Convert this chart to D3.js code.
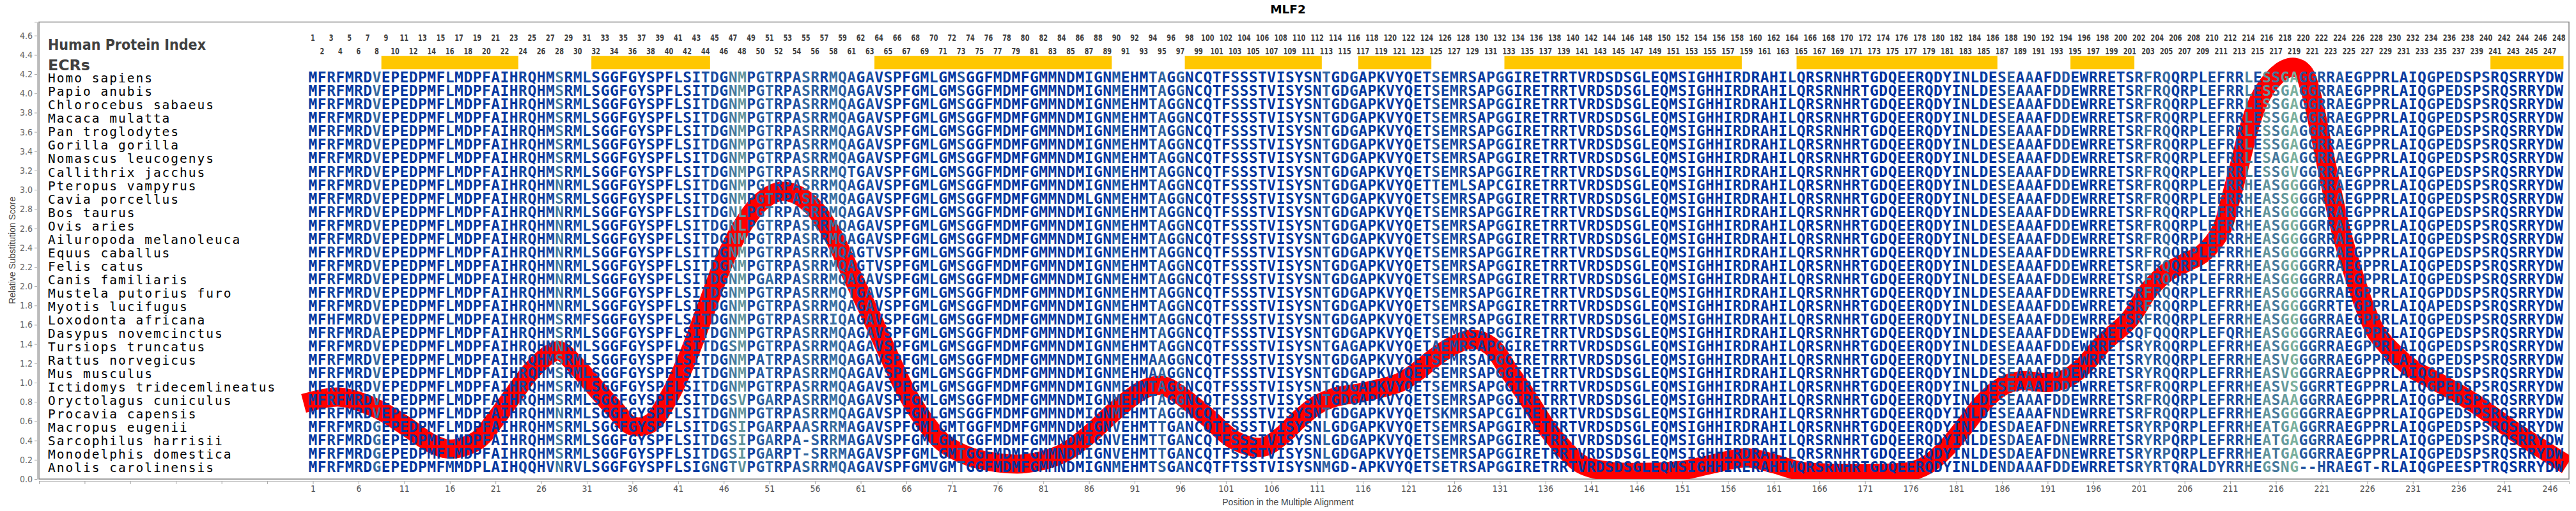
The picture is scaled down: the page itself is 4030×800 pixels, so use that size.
<!DOCTYPE html>
<html>
<head>
<meta charset="utf-8">
<script src="https://cdn.jsdelivr.net/npm/d3@7"></script>
<style>
body { margin: 0; background: #fff; }
</style>
</head>
<body>
<div id="chart"></div>
<script>
var width = 4030,
    height = 800;

var species = ["Homo sapiens", "Papio anubis", "Chlorocebus sabaeus", "Macaca mulatta",
    "Pan troglodytes", "Gorilla gorilla", "Nomascus leucogenys", "Callithrix jacchus",
    "Pteropus vampyrus", "Cavia porcellus", "Bos taurus", "Ovis aries",
    "Ailuropoda melanoleuca", "Equus caballus", "Felis catus", "Canis familiaris",
    "Mustela putorius furo", "Myotis lucifugus", "Loxodonta africana", "Dasypus novemcinctus",
    "Tursiops truncatus", "Rattus norvegicus", "Mus musculus", "Ictidomys tridecemlineatus",
    "Oryctolagus cuniculus", "Procavia capensis", "Macropus eugenii", "Sarcophilus harrisii",
    "Monodelphis domestica", "Anolis carolinensis"];

// human row of the alignment, one letter per column
var humanSeq = "MFRFMRDVEPEDPMFLMDPFAIHRQHMSRMLSGGFGYSPFL" +
    "SITDGNMPGTRPASRRMQAGAVSPFGMLGMSGGFMDMFGMMNDMIGNMEHMT" +
    "AGGNCQTFSSSTVISYSNTGDGAPKVYQETSEMRSAPGGIRETRRTVRDSDS" +
    "GLEQMSIGHHIRDRAHILQRSRNHRTGDQEERQDYINLDESEAAAFDDEWRRE" +
    "TSRFRQQRPLEFRRLESSGAGGRRAEGPPRLAIQGPEDSPSRQSRRYDW";

// residues that differ from the human row: column + residue
var variants = [
    "", "", "", "", "", "",
    "216A",
    "60T 218V",
    "28N 124T 127L 131C 213H 215A 218G",
    "86L 213H 215A 217S 218G",
    "28N 48L 213H 215A 218G",
    "28N 48L 213H 215A 218G",
    "28N 213H 215A 218G",
    "28N 62T 213H 215A 218G",
    "28N 62T 213H 215A 218G",
    "28N 51A 213H 215A 218G",
    "28N 60T 213H 215A 218G 235D",
    "28N 213H 215A 218G 223T 233A",
    "3H 31F 58I 213H 215A 218G",
    "8A 201Q 203Q 211Q 213H 215A 218G",
    "28N 47S 114A 124A 202Y 213H 215A 218G",
    "50A 93A 202Y 213H 215A 217V 218G",
    "50A 93A 202Y 213H 215A 217V 218G",
    "213H 215A 217V 218S 223T",
    "47S 48V 51A 213H 215A 217A 218A",
    "28N 125K 131C 192N 213H 215A 218G",
    "8G 47S 48I 51A 55A 56S 58R 59M 72T 89V 94T 96A 112L 187D 189E 193N 202Y 204P 213H 215A 216T 217G 218A",
    "8G 47S 48I 51A 55- 56S 58R 59M 72T 89V 94T 96A 112L 187D 189E 193N 202Y 204P 213H 215A 216T 217G 218A",
    "8G 47S 48I 51A 54T 55- 56S 58R 59M 72T 89V 94T 96A 112L 187D 189E 193N 202Y 204P 213H 215A 216T 217G 218A",
    "8G 16M 20L 24Q 27V 28N 30V 44G 45N 47T 48V 69V 72T 94S 96A 102T 112M 115- 126T 158E 163M 186N 187D 202Y 204T 207A 209D 210Y 213H 215G 216S 217N 218G 219- 220- 221H 226T 227- 236E 239T"
];

// human protein index printed above each column (60 is not printed)
var indexLabels = d3.range(1, 60).concat(d3.range(61, 249));

// evolutionarily conserved regions, first and last column
var ecrStart = [9, 32, 63, 97, 116, 132, 164, 194, 240];
var ecrEnd = [23, 44, 88, 111, 123, 157, 185, 200, 247];

// relative substitution score read along the alignment
var scorePos = [1, 4, 8, 11, 14, 16, 19, 21, 23, 25, 27, 28, 30, 32, 34, 36, 38, 40, 42, 44,
    46, 48, 50, 52, 54, 56, 58, 60, 62, 64, 66, 68, 70, 73, 76, 79, 83, 86, 89, 92,
    94, 96, 99, 102, 105, 107, 109, 111, 113, 116, 120, 122, 124, 126, 128, 130, 132, 134, 136, 138,
    140, 143, 147, 151, 154, 158, 161, 164, 168, 172, 176, 178, 180, 182, 184, 186, 188, 191, 193, 195,
    197, 200, 202, 204, 206, 208, 210, 211, 212, 213, 214, 215, 216, 217, 218, 219, 220, 221, 222, 223,
    224, 225, 226, 227, 229, 231, 233, 235, 238, 242, 245, 247];
var scoreVal = [0.81, 0.85, 0.73, 0.56, 0.37, 0.31, 0.40, 0.62, 0.88, 1.13, 1.30, 1.33, 1.16, 0.94, 0.73, 0.55, 0.58, 0.85, 1.25, 1.75,
    2.25, 2.62, 2.87, 2.98, 2.95, 2.80, 2.52, 2.12, 1.72, 1.30, 0.90, 0.60, 0.38, 0.23, 0.17, 0.16, 0.26, 0.46, 0.72, 0.93,
    0.97, 0.87, 0.64, 0.40, 0.33, 0.44, 0.62, 0.77, 0.85, 0.90, 1.00, 1.12, 1.27, 1.39, 1.45, 1.38, 1.12, 0.85, 0.55, 0.32,
    0.15, 0.08, 0.07, 0.09, 0.15, 0.22, 0.16, 0.08, 0.06, 0.06, 0.08, 0.16, 0.33, 0.56, 0.80, 0.96, 1.02, 1.00, 1.04, 1.18,
    1.40, 1.66, 1.95, 2.14, 2.24, 2.34, 2.58, 2.89, 3.25, 3.62, 3.90, 4.07, 4.18, 4.25, 4.27, 4.22, 3.95, 3.50, 3.05, 2.62,
    2.28, 1.98, 1.72, 1.52, 1.30, 1.14, 1.04, 0.94, 0.77, 0.50, 0.32, 0.20];

var yTicks = d3.range(0, 4.61, 0.2);
var xTicks = d3.range(-29, 247, 5);

var narrow = '"Liberation Sans Narrow", "DejaVu Sans Condensed", sans-serif';
var mono = '"DejaVu Sans Mono", monospace';

var svg = d3.select("#chart")
    .append("svg")
    .attr("width", width)
    .attr("height", height)
    .style("background", "#fff");

var x = d3.scaleLinear().domain([-29, 248.1]).range([61, 4019]);
var y = d3.scaleLinear().domain([0, 4.74]).range([750, 34.5]);
var rowY = d3.scaleLinear().domain([0, species.length - 1]).range([129.3, 739.2]);
var colW = x(2) - x(1);

// build the rows of the alignment
var seqs = variants.map(function(v) {
    var s = humanSeq.split("");
    v.split(" ").filter(Boolean).forEach(function(m) {
        s[+m.slice(0, -1) - 1] = m.slice(-1);
    });
    return s;
});

// column colour: diversity of the column plus the local score
var scoreAt = d3.scaleLinear().domain(scorePos).range(scoreVal).clamp(true);
var letterColor = d3.scaleLinear()
    .domain([0, 0.3, 0.6, 1])
    .range(["#0033a0", "#2458a2", "#4f829c", "#93c99d"])
    .clamp(true);
var colColor = d3.range(humanSeq.length).map(function(i) {
    var counts = d3.rollup(seqs, function(v) { return v.length; }, function(s) { return s[i]; });
    var h = 0;
    counts.forEach(function(n) {
        var p = n / seqs.length;
        h -= p * Math.log2(p);
    });
    var t = 0.8 * Math.min(1, h / 1.6) + 0.2 * scoreAt(i + 1) / 4.3;
    return letterColor(t);
});

svg.append("defs").append("clipPath")
    .attr("id", "plot-clip")
    .append("rect")
    .attr("x", 61).attr("y", 34.5)
    .attr("width", 4019 - 61).attr("height", 750 - 34.5);

// title
svg.append("text")
    .attr("x", 2015).attr("y", 20.5)
    .attr("text-anchor", "middle")
    .style("font-family", '"DejaVu Sans", sans-serif')
    .style("font-weight", "bold")
    .style("font-size", "18.5px")
    .text("MLF2");

// axes
var yAxis = svg.append("g")
    .attr("transform", "translate(58,0)")
    .call(d3.axisLeft(y).tickValues(yTicks).tickSize(4).tickPadding(3).tickFormat(d3.format(".1f")));
yAxis.select(".domain").attr("stroke", "#bbb");
yAxis.selectAll(".tick line").attr("stroke", "#aaa");
yAxis.selectAll("text")
    .style("font-family", narrow)
    .style("font-size", "14px")
    .attr("fill", "#666");

var xAxis = svg.append("g")
    .attr("transform", "translate(0,753)")
    .call(d3.axisBottom(x).tickValues(xTicks).tickSize(5).tickPadding(2)
        .tickFormat(function(d) { return d >= 1 ? d : ""; }));
xAxis.select(".domain").attr("stroke", "#bbb");
xAxis.selectAll(".tick line").attr("stroke", "#aaa");
xAxis.selectAll("text")
    .style("font-family", narrow)
    .style("font-size", "14px")
    .attr("fill", "#555");

svg.append("rect")
    .attr("x", 61).attr("y", 34.5)
    .attr("width", 4019 - 61).attr("height", 750 - 34.5)
    .attr("fill", "none")
    .attr("stroke", "#888")
    .attr("stroke-width", 1.5);

svg.append("text")
    .attr("transform", "translate(24,392) rotate(-90)")
    .attr("text-anchor", "middle")
    .style("font-family", '"Liberation Sans", Arial, sans-serif')
    .style("font-size", "14px")
    .attr("fill", "#444")
    .text("Relative Substitution Score");

svg.append("text")
    .attr("x", 2015).attr("y", 791)
    .attr("text-anchor", "middle")
    .style("font-family", '"Liberation Sans", Arial, sans-serif')
    .style("font-size", "14px")
    .attr("fill", "#444")
    .text("Position in the Multiple Alignment");

// header texts
svg.append("text")
    .attr("x", 75).attr("y", 78)
    .attr("textLength", 247).attr("lengthAdjust", "spacingAndGlyphs")
    .style("font-family", narrow)
    .style("font-weight", "bold")
    .style("font-size", "23px")
    .attr("fill", "#404040")
    .text("Human Protein Index");

svg.append("text")
    .attr("x", 75).attr("y", 110)
    .attr("textLength", 66).attr("lengthAdjust", "spacingAndGlyphs")
    .style("font-family", narrow)
    .style("font-weight", "bold")
    .style("font-size", "23px")
    .attr("fill", "#404040")
    .text("ECRs");

// index labels, odd columns on top, even columns below
svg.append("g").selectAll("text")
    .data(indexLabels)
    .enter().append("text")
    .attr("x", function(d, i) { return x(i + 1); })
    .attr("y", function(d, i) { return i % 2 === 0 ? 64.3 : 85.3; })
    .attr("text-anchor", "middle")
    .attr("textLength", function(d) { return String(d).length * 6.8; })
    .attr("lengthAdjust", "spacingAndGlyphs")
    .style("font-family", narrow)
    .style("font-weight", "bold")
    .style("font-size", "14.5px")
    .attr("fill", "#404040")
    .text(function(d) { return d; });

// ECR bars
svg.append("g").selectAll("rect")
    .data(d3.zip(ecrStart, ecrEnd))
    .enter().append("rect")
    .attr("x", function(d) { return x(d[0]) - colW / 2; })
    .attr("width", function(d) { return x(d[1]) - x(d[0]) + colW; })
    .attr("y", 87.7)
    .attr("height", 20.6)
    .attr("fill", "#ffc700");

// score curve, under the letters
var line = d3.line()
    .x(function(d) { return x(d[0]); })
    .y(function(d) { return y(d[1]); })
    .curve(d3.curveCatmullRom.alpha(0.5));

svg.append("path")
    .datum(d3.zip(scorePos, scoreVal))
    .attr("clip-path", "url(#plot-clip)")
    .attr("d", line)
    .attr("fill", "none")
    .attr("stroke", "#ff0000")
    .attr("stroke-width", 30)
    .attr("stroke-linecap", "square")
    .attr("stroke-linejoin", "round");

// species names
svg.append("g").selectAll("text")
    .data(species)
    .enter().append("text")
    .attr("x", 75)
    .attr("y", function(d, i) { return rowY(i); })
    .style("font-family", mono)
    .style("font-size", "19.5px")
    .style("letter-spacing", "2px")
    .attr("fill", "#000")
    .text(function(d) { return d; });

// alignment letters
var rows = svg.append("g").selectAll("g")
    .data(seqs)
    .enter().append("g")
    .attr("transform", function(d, r) { return "translate(0," + rowY(r) + ")"; });

rows.selectAll("text")
    .data(function(d) { return d; })
    .enter().append("text")
    .attr("x", function(d, i) { return x(i + 1); })
    .attr("text-anchor", "middle")
    .style("font-family", mono)
    .style("font-weight", "bold")
    .style("font-size", "23px")
    .attr("fill", function(d, i) { return colColor[i]; })
    .text(function(d) { return d; });
</script>
</body>
</html>
